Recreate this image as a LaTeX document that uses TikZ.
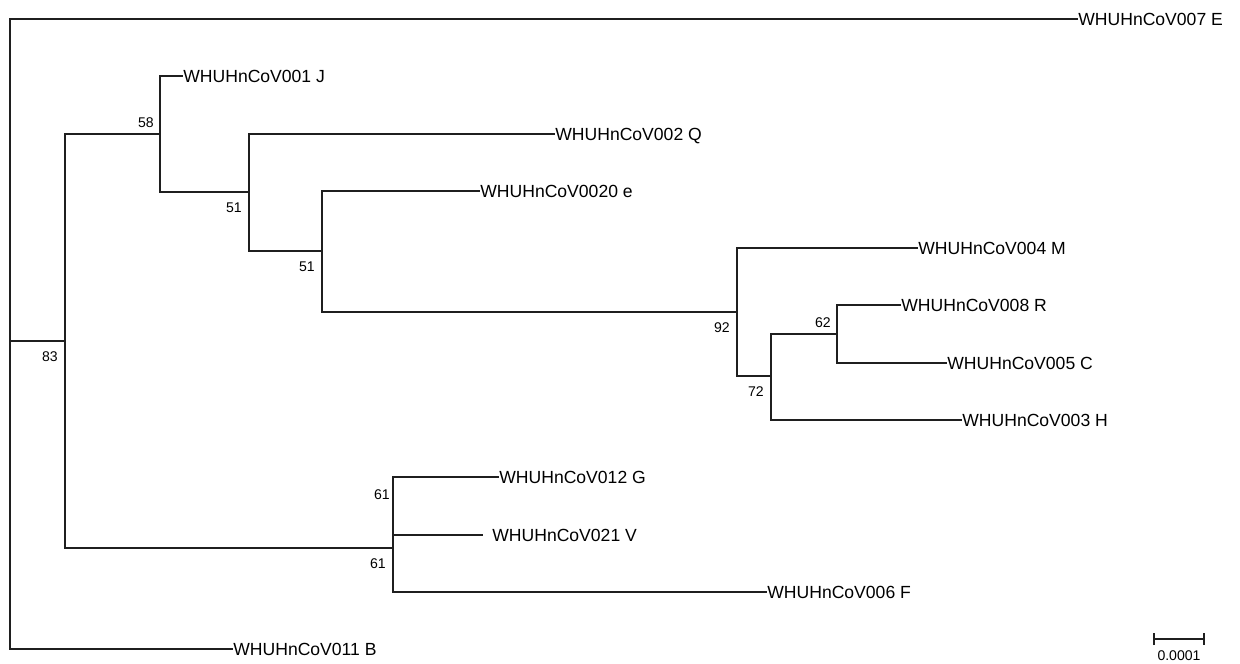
\documentclass[tikz,border=0pt]{standalone}
\usepackage{fontspec}
\setmainfont{Liberation Sans}
\usetikzlibrary{arrows.meta,positioning}

\begin{document}
\begin{tikzpicture}[
  x=0.2mm, y=-0.2mm,
  font=\fontsize{10}{12}\selectfont,
  br/.style={draw=black!88, line width=0.9pt},
  taxon/.style={anchor=west, inner sep=0pt, text height=7.2pt, text depth=0pt},
  bs/.style={font=\fontsize{8}{9}\selectfont, inner sep=0pt, text height=5.8pt, text depth=0pt},
  bsa/.style={bs, anchor=south east, xshift=-1.2mm, yshift=1.2mm},
  bsb/.style={bs, anchor=north east, xshift=-1.4mm, yshift=-1.9mm},
]
\useasboundingbox (0,0) rectangle (1240,663);

% internal nodes
\coordinate (root) at (10,341);
\coordinate (n83) at (65,341);
\coordinate (n58) at (160,134);
\coordinate (n51a) at (249,192);
\coordinate (n51b) at (322,251);
\coordinate (n92) at (737,312);
\coordinate (n72) at (771,376);
\coordinate (n62) at (837,334);
\coordinate (n61a) at (393,506);
\coordinate (n61b) at (393,548);

% taxa
\node[taxon] (E) at (1078,19) {WHUHnCoV007 E};
\node[taxon] (J) at (183,76) {WHUHnCoV001 J};
\node[taxon] (Q) at (555,134) {WHUHnCoV002 Q};
\node[taxon] (e) at (480,191) {WHUHnCoV0020 e};
\node[taxon] (M) at (918,248) {WHUHnCoV004 M};
\node[taxon] (R) at (901,305) {WHUHnCoV008 R};
\node[taxon] (C) at (947,363) {WHUHnCoV005 C};
\node[taxon] (H) at (962,420) {WHUHnCoV003 H};
\node[taxon] (G) at (499,477) {WHUHnCoV012 G};
\node[taxon, inner xsep=1.8mm] (V) at (483,535) {WHUHnCoV021 V};
\node[taxon] (F) at (767,592) {WHUHnCoV006 F};
\node[taxon] (B) at (233,649) {WHUHnCoV011 B};

% branches
\foreach \p/\c in {root/E.west, root/n83, root/B.west,
                   n83/n58, n83/n61b,
                   n58/J.west, n58/n51a,
                   n51a/Q.west, n51a/n51b,
                   n51b/e.west, n51b/n92,
                   n92/M.west, n92/n72,
                   n72/n62, n72/H.west,
                   n62/R.west, n62/C.west,
                   n61b/n61a, n61b/F.west,
                   n61a/G.west, n61a/V.west}
  \draw[br] (\p) |- (\c);

% bootstrap values
\node[bsb] (s83) at (n83) {83};
\node[bsa] (s58) at (n58) {58};
\node[bsb] (s51a) at (n51a) {51};
\node[bsb] (s51b) at (n51b) {51};
\node[bsb] (s92) at (n92) {92};
\node[bsb] (s72) at (n72) {72};
\node[bsa] (s62) at (n62) {62};
\node[bsa, xshift=0.6mm] (s61a) at (n61a) {61};
\node[bsb] (s61b) at (n61b) {61};

% scale bar
\coordinate (sb1) at (1153,639);
\coordinate (sb2) at (1205,639);
\draw[br, {Bar[width=2.4mm]}-{Bar[width=2.4mm]}] (sb1) -- (sb2);
\node[bs, anchor=north] (sbl) at (1179,650) {0.0001};
\end{tikzpicture}
\end{document}
